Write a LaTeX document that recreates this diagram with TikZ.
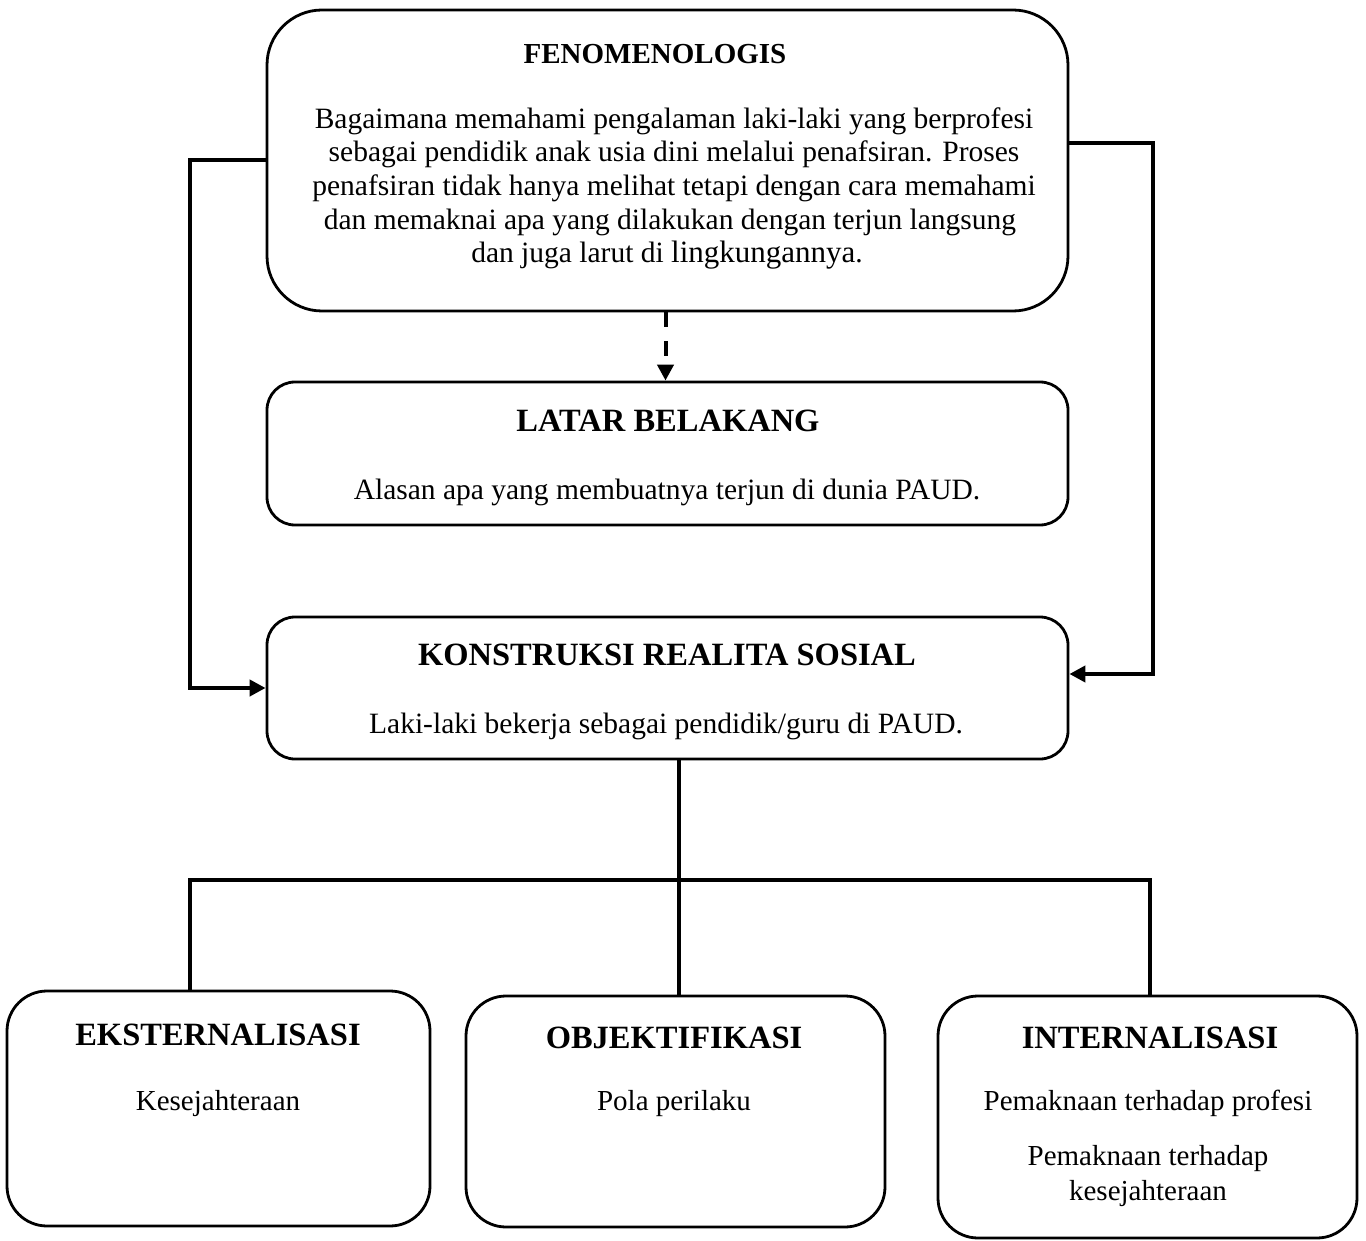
\documentclass[tikz,border=0pt]{standalone}
\usepackage{fontspec}
\setmainfont{Liberation Serif}
\usetikzlibrary{arrows.meta}
\tikzset{
  box/.style={draw=black, line width=2.8pt, inner sep=0pt, fill=white},
  conn/.style={draw=black, line width=4pt},
  tip/.style={-{Triangle[length=16pt,width=16pt]}},
  ttl/.style={font=\fontsize{32.5}{36}\selectfont\bfseries, inner sep=0pt, anchor=base},
  txt/.style={font=\fontsize{29.5}{33}\selectfont, inner sep=0pt, anchor=base},
  txts/.style={font=\fontsize{29}{33}\selectfont, inner sep=0pt, anchor=base},
}
\begin{document}
\begin{tikzpicture}[x=1pt,y=-1pt]
\useasboundingbox (0,0) rectangle (1366,1241);
% boxes
\node (fen) [box, rounded corners=55pt, minimum width=801pt, minimum height=301pt] at (667.5,160.5) {};
\node (lat) [box, rounded corners=28pt, minimum width=801pt, minimum height=143pt] at (667.5,453.5) {};
\node (kon) [box, rounded corners=28pt, minimum width=801pt, minimum height=142pt] at (667.5,688) {};
\node (eks) [box, rounded corners=40pt, minimum width=423pt, minimum height=235pt] at (218.5,1108.5) {};
\node (obj) [box, rounded corners=40pt, minimum width=419pt, minimum height=231pt] at (675.5,1111.5) {};
\node (int) [box, rounded corners=40pt, minimum width=419pt, minimum height=242pt] at (1147.5,1117) {};
% texts
\node (fenT) [ttl, font=\fontsize{29}{33}\selectfont\bfseries] at (655,64) {FENOMENOLOGIS};
\node (f1) [txt] at (674,129) {Bagaimana memahami pengalaman laki-laki yang berprofesi};
\node (f2) [txt] at (674,162) {sebagai pendidik anak usia dini melalui penafsiran. Proses};
\node (f3) [txt] at (674,196) {penafsiran tidak hanya melihat tetapi dengan cara memahami};
\node (f4) [txt] at (670,230) {dan memaknai apa yang dilakukan dengan terjun langsung};
\node (f5) [txt] at (667,263) {dan juga larut di {\fontsize{31}{33}\selectfont lingkungannya}.};
\node (latT) [ttl] at (668,431) {LATAR BELAKANG};
\node (latB) [txt] at (667,499) {Alasan apa yang membuatnya terjun di dunia PAUD.};
\node (konT) [ttl] at (667,665) {KONSTRUKSI REALITA SOSIAL};
\node (konB) [txt] at (666,733) {Laki-laki bekerja sebagai pendidik/guru di PAUD.};
\node (eksT) [ttl] at (218,1045) {EKSTERNALISASI};
\node (eksB) [txts] at (218,1110) {Kesejahteraan};
\node (objT) [ttl] at (674,1048) {OBJEKTIFIKASI};
\node (objB) [txts] at (674,1110) {Pola perilaku};
\node (intT) [ttl] at (1150,1048) {INTERNALISASI};
\node (intB1) [txts] at (1148,1110) {Pemaknaan terhadap profesi};
\node (intB2) [txts] at (1148,1165) {Pemaknaan terhadap};
\node (intB3) [txts] at (1148,1200) {kesejahteraan};
% connectors
\draw[conn, tip] (fen.west) -- ++(-76,0) |- (kon.west);
\draw[conn, tip] ([yshift=17pt]fen.east) -- ++(84,0) |- ([yshift=14pt]kon.east);
\draw[conn, tip, dash pattern=on 15pt off 14pt] ([xshift=-2pt]fen.south) -- ([xshift=-2pt]lat.north);
\coordinate (jm) at (679,880);
\coordinate (jl) at (190,880);
\coordinate (jr) at (1150,880);
\draw[conn] ([xshift=11.5pt]kon.south) -- (jm);
\draw[conn, line cap=rect] (jl) -- (jr);
\draw[conn] (jl) -- (jl |- eks.north);
\draw[conn] (jm) -- (jm |- obj.north);
\draw[conn] (jr) -- (jr |- int.north);
\end{tikzpicture}
\end{document}
